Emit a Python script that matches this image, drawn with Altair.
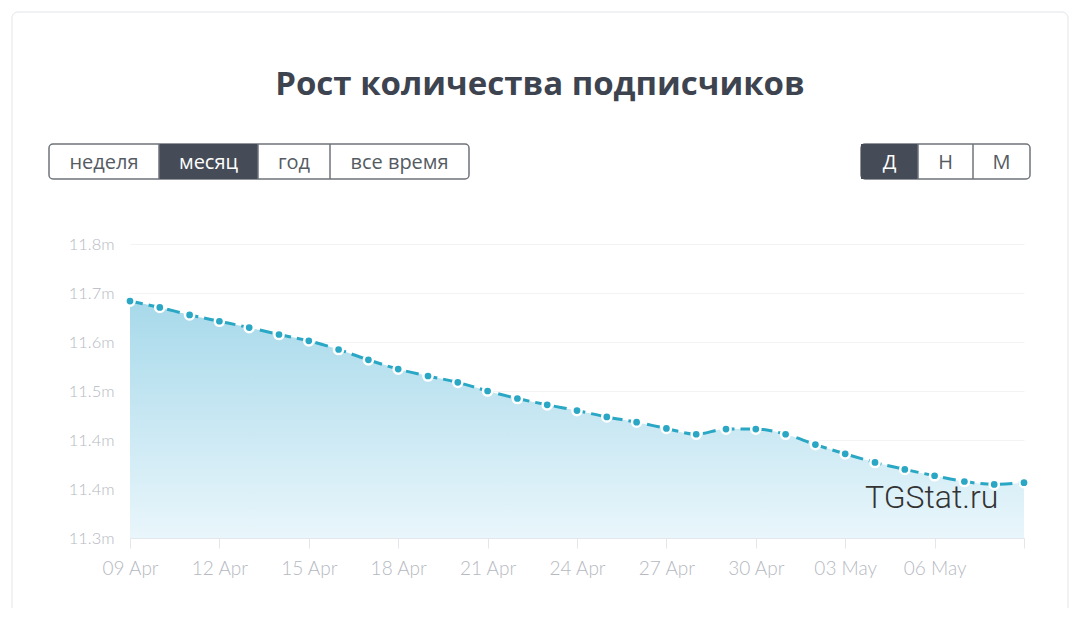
import altair as alt
import pandas as pd

# ---------------- data ----------------
dates = ["09 Apr", "10 Apr", "11 Apr", "12 Apr", "13 Apr", "14 Apr", "15 Apr", "16 Apr",
         "17 Apr", "18 Apr", "19 Apr", "20 Apr", "21 Apr", "22 Apr", "23 Apr", "24 Apr",
         "25 Apr", "26 Apr", "27 Apr", "28 Apr", "29 Apr", "30 Apr", "01 May", "02 May",
         "03 May", "04 May", "05 May", "06 May", "07 May", "08 May", "09 May"]
subscribers_m = [11.686, 11.675, 11.662, 11.651, 11.640, 11.628, 11.617, 11.602,
                 11.584, 11.568, 11.556, 11.545, 11.530, 11.517, 11.506, 11.496,
                 11.485, 11.476, 11.465, 11.455, 11.464, 11.464, 11.455, 11.437,
                 11.421, 11.406, 11.394, 11.383, 11.373, 11.368, 11.371]

x_tick_index = [0, 3, 6, 9, 12, 15, 18, 21, 24, 27, 30]
x_tick_labels = ["09 Apr", "12 Apr", "15 Apr", "18 Apr", "21 Apr", "24 Apr",
                 "27 Apr", "30 Apr", "03 May", "06 May", ""]

y_ticks = [11.275, 11.360, 11.445, 11.530, 11.615, 11.700, 11.785]
y_tick_labels = ["11.3m", "11.4m", "11.4m", "11.5m", "11.6m", "11.7m", "11.8m"]

title_text = "Рост количества подписчиков"
period_buttons = ["неделя", "месяц", "год", "все время"]
period_selected = "месяц"
step_buttons = ["Д", "Н", "М"]
step_selected = "Д"
watermark = "TGStat.ru"

# ---------------- layout (pixels relative to plot origin) ----------------
W, H = 894, 294
PAD = {"left": 122, "top": 236, "right": 48, "bottom": 70}
period_edges = [-81, 29, 128, 200, 339]
step_edges = [731, 788, 843, 900]
btn_y0, btn_y1 = -100, -65

LINE = "#2aa7c4"
DARK = "#454c57"
BORDER = "#6f737a"
AXIS_TXT = "#b5b9c1"

df = pd.DataFrame({"i": list(range(len(dates))), "date": dates, "v": subscribers_m})

def arr_expr(labels):
    return "[" + ",".join("'" + s + "'" for s in labels) + "]"

x_label_expr = arr_expr(x_tick_labels) + "[round(datum.value/3)]"
y_label_expr = arr_expr(y_tick_labels) + "[round((datum.value-%s)/0.085)]" % y_ticks[0]

x_enc = alt.X("i:Q",
              scale=alt.Scale(domain=[0, len(dates) - 1], nice=False, zero=False),
              axis=alt.Axis(values=x_tick_index, labelExpr=x_label_expr, grid=False,
                            domainColor="#e3e6eb", tickColor="#e3e6eb", tickSize=10,
                            labelPadding=11, labelColor=AXIS_TXT, labelFont="Lato",
                            labelFontWeight=300, labelFlush=False,
                            labelFontSize=19, title=None, zindex=1))
y_enc = alt.Y("v:Q",
              scale=alt.Scale(domain=[y_ticks[0], y_ticks[-1]], nice=False, zero=False),
              axis=alt.Axis(values=y_ticks, labelExpr=y_label_expr, domain=False,
                            ticks=False, gridColor="#f2f3f5", labelPadding=16,
                            labelColor=AXIS_TXT, labelFont="Lato", labelFontWeight=300,
                            labelFontSize=16.5, labelFlush=False, title=None))

gradient = alt.Gradient(gradient="linear",
                        stops=[alt.GradientStop(color="#a7d9ea", offset=0),
                               alt.GradientStop(color="#e9f6fb", offset=1)],
                        x1=0, x2=0, y1=0, y2=1)

base = alt.Chart(df)
area = base.mark_area(interpolate="monotone", color=gradient).encode(
    x=x_enc, y=y_enc, y2=alt.datum(y_ticks[0]))
line = base.mark_line(interpolate="monotone", color=LINE, strokeWidth=3,
                      strokeDash=[13, 6]).encode(x="i:Q", y="v:Q")
points = base.mark_point(filled=True, color=LINE, stroke="white", strokeWidth=2.5,
                         size=85, opacity=1, strokeOpacity=1, fillOpacity=1).encode(
    x="i:Q", y="v:Q")

# ---------------- decorations ----------------
btn_rows = []
for k, lab in enumerate(period_buttons):
    btn_rows.append({"x0": period_edges[k], "x1": period_edges[k + 1], "lab": lab,
                     "sel": lab == period_selected})
for k, lab in enumerate(step_buttons):
    btn_rows.append({"x0": step_edges[k], "x1": step_edges[k + 1], "lab": lab,
                     "sel": lab == step_selected})
btn_df = pd.DataFrame(btn_rows)
btn_df["y0"] = btn_y0
btn_df["y1"] = btn_y1
btn_df["xc"] = (btn_df["x0"] + btn_df["x1"]) / 2
btn_df["yc"] = (btn_y0 + btn_y1) / 2 + 1

px = lambda f: alt.X(f, scale=None, axis=None)
py = lambda f: alt.Y(f, scale=None, axis=None)

group_df = pd.DataFrame({"x0": [period_edges[0], step_edges[0]],
                         "x1": [period_edges[-1], step_edges[-1]],
                         "y0": [btn_y0] * 2, "y1": [btn_y1] * 2})
groups = alt.Chart(group_df).mark_rect(cornerRadius=4, fill="white", stroke=BORDER,
                                       strokeWidth=1.5).encode(
    x=px("x0:Q"), x2="x1:Q", y=py("y0:Q"), y2="y1:Q")
sel_rects = alt.Chart(btn_df[btn_df["sel"]]).mark_rect(fill=DARK).encode(
    x=px("x0:Q"), x2="x1:Q", y=py("y0:Q"), y2="y1:Q")
div_df = btn_df[~btn_df["x0"].isin([period_edges[0], step_edges[0]])]
dividers = alt.Chart(div_df).mark_rule(color=BORDER, strokeWidth=1.5).encode(
    x=px("x0:Q"), y=py("y0:Q"), y2="y1:Q")
btn_text = alt.Chart(btn_df).mark_text(font="Open Sans", fontSize=20, baseline="middle",
                                       align="center").encode(
    x=px("xc:Q"), y=py("yc:Q"), text="lab:N",
    color=alt.condition("datum.sel", alt.value("white"), alt.value("#555b63")))

title = alt.Chart(pd.DataFrame({"t": [title_text]})).mark_text(
    font="Open Sans", fontWeight="bold", fontSize=33, color="#3d4450",
    baseline="middle", align="center").encode(
    x=alt.value(410), y=alt.value(-159), text="t:N")

wm = alt.Chart(pd.DataFrame({"t": [watermark]})).mark_text(
    font="Roboto", fontWeight=300, fontSize=32, color="#333333", baseline="middle",
    align="left").encode(x=alt.value(735), y=alt.value(254), text="t:N")

frame = alt.Chart(pd.DataFrame({"a": [0]})).mark_rect(
    fillOpacity=0, stroke="#eef0f4", strokeWidth=8).encode(
    x=alt.value(-126), x2=alt.value(946), y=alt.value(-240), y2=alt.value(600))
card = alt.Chart(pd.DataFrame({"a": [0]})).mark_rect(
    fillOpacity=0, stroke="#e2e5ea", strokeWidth=1, cornerRadius=6).encode(
    x=alt.value(-118), x2=alt.value(938), y=alt.value(-232), y2=alt.value(600))

chart = alt.layer(area, line, points, groups, sel_rects, dividers, btn_text,
                  title, wm, frame, card).properties(
    width=W, height=H, background="white", padding=PAD,
    autosize=alt.AutoSizeParams(type="none")
).configure_view(stroke=None)

chart.save("out.html", embed_options={"renderer": "svg", "actions": False})
